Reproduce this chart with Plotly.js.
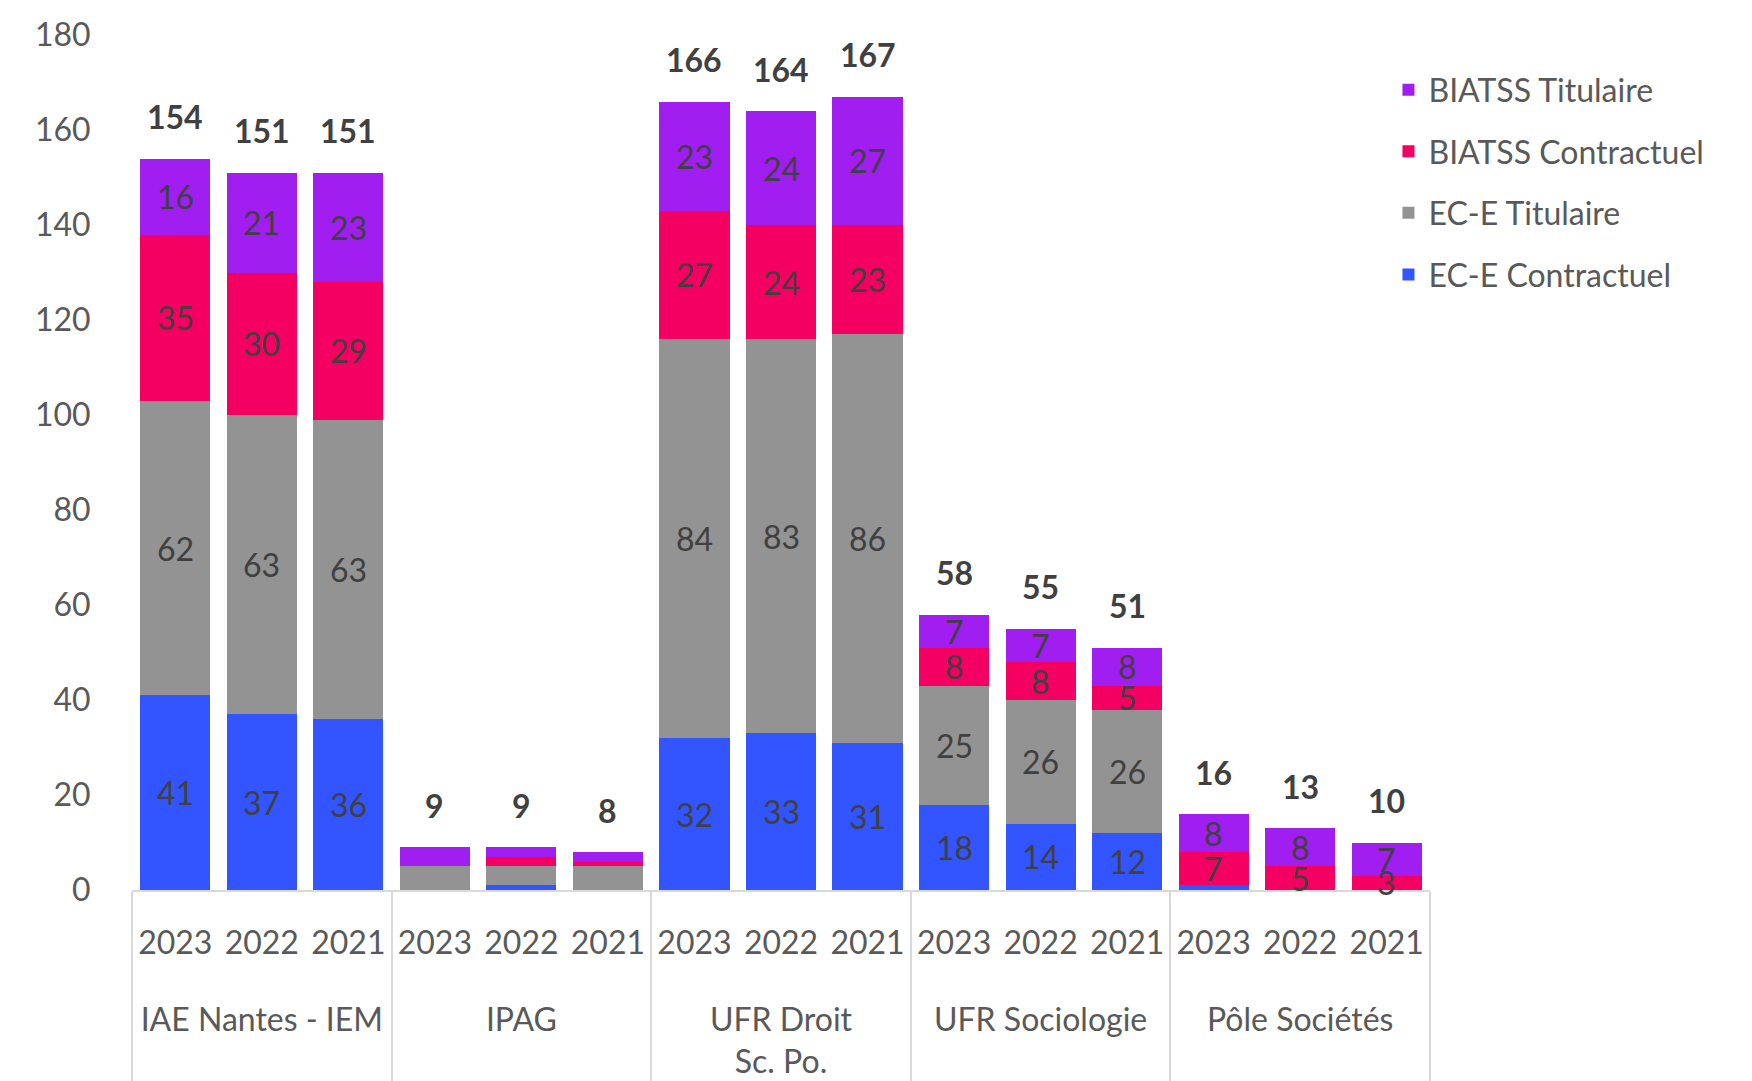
<!DOCTYPE html>
<html><head><meta charset="utf-8">
<script src="https://cdn.plot.ly/plotly-3.0.1.min.js"></script>
<style>html,body{margin:0;padding:0;background:#fff}#chart{width:1752px;height:1081px}</style>
</head><body><div id="chart"></div>
<script>
const groups = ["IAE Nantes - IEM", "IPAG", "UFR Droit\nSc. Po.", "UFR Sociologie", "Pôle Sociétés"];
const years = ["2023", "2022", "2021"];
const eceContractuel    = [41, 37, 36,  0, 1, 0,  32, 33, 31,  18, 14, 12,  1, 0, 0];
const eceTitulaire      = [62, 63, 63,  5, 4, 5,  84, 83, 86,  25, 26, 26,  0, 0, 0];
const biatssContractuel = [35, 30, 29,  0, 2, 1,  27, 24, 23,   8,  8,  5,  7, 5, 3];
const biatssTitulaire   = [16, 21, 23,  4, 2, 2,  23, 24, 27,   7,  7,  8,  8, 8, 7];
const seriesNames = ["EC-E Contractuel", "EC-E Titulaire", "BIATSS Contractuel", "BIATSS Titulaire"];
const seriesColors = ["#3355FF", "#939393", "#F30062", "#A01FF0"];
const unlabeledGroups = ["IPAG"];

const FONT = "Lato, 'Open Sans', sans-serif";
const FS = 32;
const groupLabels = groups.map(g => "<br>" + g.replace("\n", "<br>"));
const xGroup = [], xYear = [];
groupLabels.forEach(g => years.forEach(y => { xGroup.push(g); xYear.push(y); }));
const xcat = [xGroup, xYear];

const allSeries = [eceContractuel, eceTitulaire, biatssContractuel, biatssTitulaire];
const totals = eceContractuel.map((_, i) => allSeries.reduce((s, arr) => s + arr[i], 0));

const traces = allSeries.map((vals, k) => ({
  type: "bar",
  name: seriesNames[k],
  x: xcat,
  y: vals,
  legendgroup: "g" + k,
  legendrank: (allSeries.length - k) * 100,
  marker: {color: seriesColors[k], line: {width: 0}},
  hoverinfo: "skip"
}));

const annotations = [];
// segment labels, centred in each stacked segment
eceContractuel.forEach((_, i) => {
  const grp = groups[Math.floor(i / years.length)];
  let base = 0;
  allSeries.forEach(vals => {
    const v = vals[i];
    if (!unlabeledGroups.includes(grp) && v > 1) {
      annotations.push({
        x: [xGroup[i], xYear[i]], y: base + v / 2,
        xref: "x", yref: "y", text: String(v), showarrow: false,
        yanchor: "middle", xanchor: "center",
        font: {family: FONT, size: FS, color: "#404040"}
      });
    }
    base += v;
  });
});
// totals above bars
totals.forEach((t, i) => annotations.push({
  x: [xGroup[i], xYear[i]], y: t,
  xref: "x", yref: "y",
  text: "<b>" + t + "</b>",
  showarrow: false,
  yanchor: "middle",
  yshift: 42,
  font: {family: FONT, size: FS, color: "#404040"}
}));

const layout = {
  width: 1752, height: 1081,
  margin: {l: 132, r: 322, t: 35, b: 191},
  paper_bgcolor: "#fff", plot_bgcolor: "#fff",
  barmode: "stack",
  bargap: 0.19,
  showlegend: true,
  legend: {
    x: 0.968, y: 0.968, xanchor: "left", yanchor: "top",
    traceorder: "grouped",
    tracegroupgap: 17,
    font: {family: FONT, size: FS, color: "#595959"},
    bgcolor: "rgba(0,0,0,0)"
  },
  xaxis: {
    type: "multicategory",
    range: [-0.5, 14.5],
    showline: true, linecolor: "#D9D9D9", linewidth: 2,
    ticks: "outside", tickson: "labels", ticklen: 18, tickcolor: "rgba(0,0,0,0)",
    ticklabelstandoff: 6,
    showdividers: true, dividercolor: "#D9D9D9", dividerwidth: 2,
    showgrid: false, zeroline: false,
    tickfont: {family: FONT, size: FS, color: "#595959"}
  },
  yaxis: {
    range: [0, 180], dtick: 20, tick0: 0,
    showgrid: false, zeroline: false, showline: false,
    ticks: "outside", ticklen: 34, tickcolor: "rgba(0,0,0,0)",
    tickfont: {family: FONT, size: FS, color: "#595959"}
  },
  annotations: annotations
};

Plotly.newPlot("chart", traces, layout, {displayModeBar: false, staticPlot: true});
</script>
</body></html>
